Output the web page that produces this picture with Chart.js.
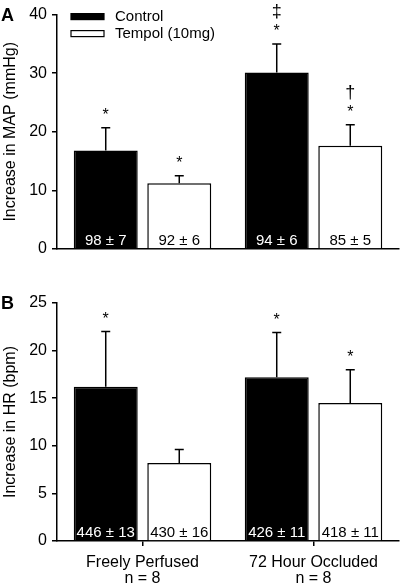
<!DOCTYPE html>
<html>
<head>
<meta charset="utf-8">
<script src="https://cdn.jsdelivr.net/npm/chart.js@4"></script>
<style>
  body { margin: 0; background: #fff; width: 400px; height: 586px; overflow: hidden; }
  .panel { position: absolute; left: 0; width: 400px; }
  #wrapA { top: 0; height: 280px; }
  #wrapB { top: 280px; height: 306px; }
</style>
</head>
<body>
<div class="panel" id="wrapA"><canvas id="chartA" width="400" height="280"></canvas></div>
<div class="panel" id="wrapB"><canvas id="chartB" width="400" height="306"></canvas></div>
<script>
// -------- Data --------
const groups = ['Freely Perfused', '72 Hour Occluded'];
const groupN = ['n = 8', 'n = 8'];
const seriesNames = ['Control', 'Tempol (10mg)'];

const mapControl = [16.8, 30.1];
const mapControlSem = [3.9, 4.9];
const mapTempol = [11.2, 17.6];
const mapTempolSem = [1.3, 3.6];
const mapBaseControl = ['98 ± 7', '94 ± 6'];
const mapBaseTempol = ['92 ± 6', '85 ± 5'];
const mapMarksControl = [['*'], ['*', '‡']];
const mapMarksTempol = [['*'], ['*', '†']];
const mapTicks = [0, 10, 20, 30, 40];

const hrControl = [16.2, 17.2];
const hrControlSem = [5.8, 4.7];
const hrTempol = [8.2, 14.5];
const hrTempolSem = [1.4, 3.5];
const hrBaseControl = ['446 ± 13', '426 ± 11'];
const hrBaseTempol = ['430 ± 16', '418 ± 11'];
const hrMarksControl = [['*'], ['*']];
const hrMarksTempol = [[], ['*']];
const hrTicks = [0, 5, 10, 15, 20, 25];

const FONT = '"Liberation Sans", Arial, Helvetica, sans-serif';

// -------- Error bars, significance marks and in-bar labels --------
const decorPlugin = {
  id: 'decor',
  afterDatasetsDraw(chart, args, opts) {
    const ctx = chart.ctx;
    const yScale = chart.scales.y;
    ctx.save();
    chart.data.datasets.forEach((ds, di) => {
      const meta = chart.getDatasetMeta(di);
      meta.data.forEach((bar, i) => {
        const capY = yScale.getPixelForValue(ds.data[i] + ds.sem[i]);
        // error bar (upper only)
        ctx.strokeStyle = '#000';
        ctx.lineWidth = 1.5;
        ctx.beginPath();
        ctx.moveTo(bar.x, bar.y);
        ctx.lineTo(bar.x, capY);
        ctx.moveTo(bar.x - 4.5, capY);
        ctx.lineTo(bar.x + 4.5, capY);
        ctx.stroke();
        // significance symbols, stacked upward
        ctx.fillStyle = '#000';
        ctx.textAlign = 'center';
        ctx.textBaseline = 'middle';
        ds.marks[i].forEach((m, k) => {
          ctx.font = (m === '*' ? '16px ' : '18px ') + FONT;
          ctx.fillText(m, bar.x, capY - 14 - k * 18 + (m === '*' ? 2 : 0));
        });
        // baseline values inside bar
        ctx.font = '15px ' + FONT;
        ctx.fillStyle = ds.textColor;
        ctx.textBaseline = 'alphabetic';
        ctx.fillText(ds.baseline[i], bar.x, yScale.getPixelForValue(0) - 4);
      });
    });
    // panel letter
    ctx.fillStyle = '#000';
    ctx.font = 'bold 18px ' + FONT;
    ctx.textAlign = 'left';
    ctx.textBaseline = 'middle';
    ctx.fillText(opts.letter, 1, yScale.getPixelForValue(yScale.max) + 1);
    // legend
    if (opts.legend) {
      chart.data.datasets.forEach((ds, di) => {
        const y = yScale.top + 2 + di * 17;
        ctx.fillStyle = ds.backgroundColor;
        ctx.strokeStyle = '#000';
        ctx.lineWidth = 1.2;
        ctx.fillRect(71, y - 3, 33, 6);
        ctx.strokeRect(71, y - 3, 33, 6);
        ctx.fillStyle = '#000';
        ctx.font = '15px ' + FONT;
        ctx.fillText(ds.label, 115, y);
      });
    }
    ctx.restore();
  }
};

function makeDatasets(ctrl, ctrlSem, ctrlBase, ctrlMarks, temp, tempSem, tempBase, tempMarks) {
  return [
    { label: seriesNames[0], data: ctrl, sem: ctrlSem, baseline: ctrlBase, marks: ctrlMarks,
      backgroundColor: '#000', borderColor: '#000', borderWidth: 1.5, textColor: '#fff',
      categoryPercentage: 0.86, barPercentage: 0.87 },
    { label: seriesNames[1], data: temp, sem: tempSem, baseline: tempBase, marks: tempMarks,
      backgroundColor: '#fff', borderColor: '#000', borderWidth: 1.5, textColor: '#000',
      categoryPercentage: 0.86, barPercentage: 0.87 }
  ];
}

function makeChart(id, labels, datasets, ticks, title, opts) {
  return new Chart(document.getElementById(id), {
    type: 'bar',
    data: { labels: labels, datasets: datasets },
    plugins: [decorPlugin],
    options: {
      responsive: false,
      animation: false,
      layout: { padding: opts.padding },
      plugins: {
        legend: { display: false },
        tooltip: { enabled: false },
        decor: { letter: opts.letter, legend: opts.legend }
      },
      scales: {
        x: {
          grid: { display: opts.xTicks, drawOnChartArea: false, offset: false, tickLength: 5, color: '#000', lineWidth: 1.5 },
          border: { display: true, color: '#000', width: 1.5 },
          ticks: { display: opts.xTicks, color: '#000', font: { family: FONT, size: 16, lineHeight: 1.0 }, padding: 9, maxRotation: 0 },
          afterFit: s => { s.height = opts.xHeight; }
        },
        y: {
          min: ticks[0], max: ticks[ticks.length - 1],
          afterBuildTicks: s => { s.ticks = ticks.map(v => ({ value: v })); },
          grid: { drawOnChartArea: false, tickLength: 5, color: '#000', lineWidth: 1.5 },
          border: { color: '#000', width: 1.5 },
          ticks: { color: '#000', font: { family: FONT, size: 16 }, padding: 5 },
          title: { display: true, text: title, color: '#000', font: { family: FONT, size: 16 }, padding: { top: 1, bottom: 0 } },
          afterFit: s => { s.width = 57; }
        }
      }
    }
  });
}

makeChart('chartA', groups,
  makeDatasets(mapControl, mapControlSem, mapBaseControl, mapMarksControl,
               mapTempol, mapTempolSem, mapBaseTempol, mapMarksTempol),
  mapTicks, 'Increase in MAP (mmHg)',
  { padding: { top: 13, bottom: 31, left: 0, right: 1 }, xTicks: false, xHeight: 0, letter: 'A', legend: true });

makeChart('chartB', groups.map((g, i) => [g, groupN[i]]),
  makeDatasets(hrControl, hrControlSem, hrBaseControl, hrMarksControl,
               hrTempol, hrTempolSem, hrBaseTempol, hrMarksTempol),
  hrTicks, 'Increase in HR (bpm)',
  { padding: { top: 23, bottom: 0, left: 0, right: 1 }, xTicks: true, xHeight: 45, letter: 'B', legend: false });
</script>
</body>
</html>
